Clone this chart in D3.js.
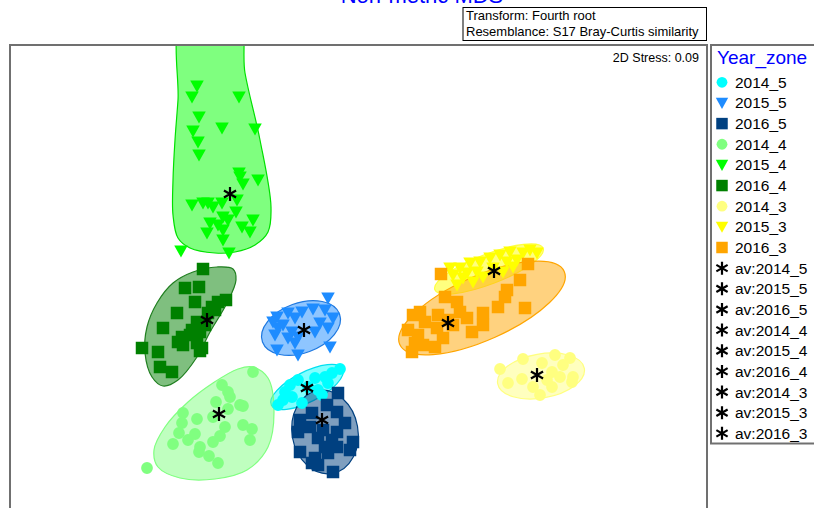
<!DOCTYPE html>
<html><head><meta charset="utf-8">
<script src="https://cdn.jsdelivr.net/npm/d3@7"></script>
<style>body{margin:0;background:#fff}svg{display:block;font-family:"Liberation Sans",Arial,sans-serif}</style>
</head><body><svg id="c" width="814" height="508"></svg>
<script>
// ---------- data (nMDS coordinates) ----------
const groups = ["2014_5","2015_5","2016_5","2014_4","2015_4","2016_4","2014_3","2015_3","2016_3"];
const shapes = ["circle","triangle","square","circle","triangle","square","circle","triangle","square"];
const colors = ["#00ffff","#1e8cff","#004080","#80ff80","#00ff00","#008000","#ffff80","#ffff00","#ffa500"];
const strokes = ["#00e0f0","#1e78e0","#004080","#80ff80","#00e000","#207f20","#ffff80","#ffff40","#ffa500"];

const pts2014_5 = [[-0.20,-0.89],[-0.28,-0.93],[-0.35,-0.97],[-0.45,-0.98],[-0.32,-1.03],[-0.62,-1.00],[-0.70,-1.05],[-0.52,-1.07],[-0.42,-1.10],[-0.68,-1.17],[-0.77,-1.20],[-0.82,-1.25],[-0.58,-1.23],[-0.38,-1.15],[-0.75,-1.12]];
const pts2015_5 = [[-0.32,-0.18],[-0.47,-0.29],[-0.35,-0.30],[-0.72,-0.33],[-0.83,-0.37],[-0.58,-0.32],[-0.27,-0.38],[-0.87,-0.42],[-0.40,-0.43],[-0.65,-0.38],[-0.77,-0.45],[-0.82,-0.48],[-0.32,-0.48],[-0.45,-0.52],[-0.68,-0.52],[-0.62,-0.57],[-0.85,-0.55],[-0.72,-0.58],[-0.65,-0.63],[-0.30,-0.67],[-0.83,-0.70],[-0.62,-0.75]];
const pts2016_5 = [[-0.22,-1.13],[-0.33,-1.25],[-0.48,-1.33],[-0.23,-1.32],[-0.60,-1.40],[-0.15,-1.43],[-0.50,-1.47],[-0.37,-1.50],[-0.23,-1.52],[-0.62,-1.52],[-0.42,-1.58],[-0.28,-1.60],[-0.07,-1.62],[-0.35,-1.67],[-0.23,-1.67],[-0.10,-1.70],[-0.60,-1.72],[-0.45,-1.78],[-0.32,-1.73],[-0.48,-1.83],[-0.27,-1.92],[-0.42,-1.85]];
const pts2014_4 = [[-1.07,-0.92],[-1.38,-1.05],[-1.32,-1.12],[-1.30,-1.17],[-1.44,-1.22],[-1.20,-1.25],[-1.17,-1.26],[-1.77,-1.33],[-1.32,-1.29],[-1.63,-1.39],[-1.78,-1.43],[-1.47,-1.37],[-1.35,-1.47],[-1.17,-1.45],[-1.08,-1.49],[-1.81,-1.53],[-1.65,-1.54],[-1.40,-1.56],[-1.72,-1.60],[-1.10,-1.60],[-1.87,-1.64],[-1.47,-1.62],[-1.60,-1.67],[-1.61,-1.72],[-1.51,-1.76],[-1.42,-1.83],[-2.13,-1.88]];
const pts2015_4 = [[-1.63,1.94],[-1.68,1.83],[-1.21,1.83],[-1.61,1.63],[-1.67,1.49],[-1.38,1.52],[-1.05,1.51],[-1.62,1.38],[-1.61,1.25],[-1.21,1.07],[-1.20,1.03],[-1.02,1.00],[-1.17,0.96],[-1.23,0.80],[-1.68,0.75],[-1.57,0.77],[-1.52,0.77],[-1.47,0.73],[-1.38,0.77],[-1.24,0.68],[-1.37,0.63],[-1.32,0.60],[-1.50,0.57],[-1.42,0.55],[-1.18,0.53],[-1.07,0.60],[-1.10,0.48],[-1.53,0.47],[-1.37,0.50],[-1.37,0.40],[-1.79,0.29],[-1.31,0.27]];
const pts2016_4 = [[-1.57,0.11],[-1.75,-0.08],[-1.61,-0.07],[-1.65,-0.22],[-1.34,-0.20],[-1.42,-0.22],[-1.45,-0.30],[-1.83,-0.33],[-1.97,-0.48],[-1.63,-0.42],[-1.60,-0.52],[-1.70,-0.55],[-1.82,-0.62],[-1.77,-0.65],[-1.63,-0.63],[-1.58,-0.68],[-2.18,-0.68],[-2.02,-0.72],[-1.60,-0.71],[-2.00,-0.87],[-1.88,-0.92],[-1.52,-0.33],[-1.48,-0.27],[-1.68,-0.50],[-1.78,-0.57],[-1.55,-0.45]];
const pts2014_3 = [[1.40,-0.89],[1.63,-0.79],[1.95,-0.75],[2.10,-0.78],[1.82,-0.83],[2.03,-0.85],[1.92,-0.92],[2.13,-0.97],[1.48,-1.03],[1.62,-0.99],[1.87,-1.00],[2.00,-0.97],[2.12,-1.02],[1.73,-1.07],[1.92,-1.07],[1.80,-1.15]];
const pts2015_3 = [[1.70,0.30],[1.63,0.27],[1.50,0.28],[1.40,0.25],[1.30,0.22],[1.20,0.18],[1.10,0.17],[1.00,0.12],[0.93,0.05],[1.03,0.02],[1.13,-0.02],[0.97,-0.05],[1.23,0.03],[1.43,0.08],[1.53,0.13],[1.33,0.12],[1.17,0.08],[1.07,0.07],[1.57,0.20],[1.77,0.27],[0.90,0.12],[1.47,0.18]];
const pts2016_3 = [[1.68,0.16],[0.81,0.06],[1.60,0.00],[1.47,-0.10],[1.45,-0.17],[0.85,-0.17],[0.97,-0.22],[1.38,-0.27],[1.65,-0.28],[1.00,-0.32],[0.60,-0.32],[0.53,-0.35],[0.78,-0.35],[1.23,-0.33],[1.07,-0.38],[0.65,-0.42],[1.23,-0.45],[0.93,-0.45],[0.77,-0.48],[0.48,-0.50],[1.12,-0.52],[0.58,-0.55],[0.83,-0.58],[0.55,-0.63],[0.63,-0.65],[0.75,-0.67],[0.52,-0.72],[0.88,-0.40]];
const points = [pts2014_5,pts2015_5,pts2016_5,pts2014_4,pts2015_4,pts2016_4,pts2014_3,pts2015_3,pts2016_3];

// group averages (asterisks)
const averages = [[-0.53,-1.08],[-0.56,-0.50],[-0.38,-1.40],[-1.41,-1.34],[-1.30,0.86],[-1.53,-0.40],[1.77,-0.95],[1.34,0.09],[0.88,-0.43]];

// group regions: ellipses [cx, cy, rx, ry, angleDeg] or outline polygons
const regionEllipse = {
  "2014_5": [-0.53,-1.07,0.40,0.15,-27],
  "2015_5": [-0.59,-0.48,0.41,0.25,-20],
  "2016_5": [-0.35,-1.52,0.33,0.42,-10],
  "2014_3": [1.81,-0.96,0.44,0.22,-10],
  "2015_3": [1.29,0.11,0.58,0.15,-21],
  "2016_3": [1.22,-0.28,0.90,0.32,-24]
};
const outline2014_4 = [[-1.07,-0.87],[-0.92,-0.98],[-0.86,-1.30],[-0.92,-1.67],[-1.13,-1.90],[-1.45,-1.99],[-1.80,-1.98],[-2.02,-1.87],[-2.06,-1.70],[-1.95,-1.47],[-1.72,-1.22],[-1.47,-1.03],[-1.22,-0.89]];
const outline2015_4 = [[-1.77,2.60],[-1.22,2.60],[-1.15,2.07],[-1.00,1.40],[-0.89,0.73],[-0.92,0.48],[-1.05,0.35],[-1.25,0.28],[-1.45,0.27],[-1.70,0.32],[-1.82,0.42],[-1.87,0.65],[-1.87,1.00],[-1.85,1.40],[-1.82,1.80]];
const outline2016_4 = [[-1.24,0.00],[-1.33,-0.23],[-1.50,-0.52],[-1.63,-0.77],[-1.82,-1.00],[-1.97,-1.06],[-2.08,-0.97],[-2.15,-0.73],[-2.13,-0.47],[-2.03,-0.23],[-1.87,-0.03],[-1.67,0.08],[-1.43,0.13],[-1.27,0.11]];
const regionOutline = {"2014_4": outline2014_4, "2015_4": outline2015_4, "2016_4": outline2016_4};

const titleText = "Non-metric MDS";
const infoLines = ["Transform: Fourth root","Resemblance: S17 Bray-Curtis similarity"];
const stressText = "2D Stress: 0.09";
const legendTitle = "Year_zone";

// ---------- drawing ----------
const svg = d3.select("#c");
const X0 = 10, X1 = 707, Y0 = 45, Y1 = 508;
const x = d3.scaleLinear().domain([-3.5, 3.47]).range([X0, X1]);
const y = d3.scaleLinear().domain([2.35, -2.28]).range([Y0, Y1]);
const ux = Math.abs(x(1) - x(0)), uy = Math.abs(y(1) - y(0));

svg.append("defs").append("clipPath").attr("id","plotclip")
  .append("rect").attr("x",X0).attr("y",Y0).attr("width",X1-X0).attr("height",520-Y0);

// title (cut at the top edge, as in the reference)
svg.append("text").attr("x",422).attr("y",3).attr("text-anchor","middle")
  .attr("font-size",22).attr("fill","#0000ff").text(titleText);

// info box
svg.append("rect").attr("x",463).attr("y",7.5).attr("width",243.5).attr("height",33)
  .attr("fill","#fff").attr("stroke","#000").attr("stroke-width",1);
infoLines.forEach((t,i)=>svg.append("text").attr("x",466).attr("y",19.5+i*16)
  .attr("font-size",13).attr("fill","#000").text(t));

const plot = svg.append("g").attr("clip-path","url(#plotclip)");

// regions
groups.forEach((g,i)=>{
  const e = regionEllipse[g];
  if (e) {
    plot.append("ellipse")
      .attr("transform",`translate(${x(e[0])},${y(e[1])}) rotate(${e[4]})`)
      .attr("rx", e[2]*ux).attr("ry", e[3]*uy)
      .attr("fill", colors[i]).attr("fill-opacity",0.5)
      .attr("stroke", strokes[i]).attr("stroke-width",1.2);
  } else {
    const line = d3.line().x(d=>x(d[0])).y(d=>y(d[1])).curve(d3.curveCatmullRomClosed.alpha(0.5));
    plot.append("path").attr("d", line(regionOutline[g]))
      .attr("fill", colors[i]).attr("fill-opacity",0.5)
      .attr("stroke", strokes[i]).attr("stroke-width",1.2);
  }
});

function symbolPath(shape, s){
  if (shape==="circle") { const r=s*0.47; return `M${-r},0A${r},${r} 0 1,0 ${r},0A${r},${r} 0 1,0 ${-r},0Z`; }
  if (shape==="square") { const h=s/2; return `M${-h},${-h}H${h}V${h}H${-h}Z`; }
  const h=s*0.54; return `M${-h},${-s*0.45}H${h}L0,${s*0.52}Z`;
}
function asteriskPath(s){
  const v=s/2, dx=Math.cos(Math.PI/6)*s/2, dy=Math.sin(Math.PI/6)*s/2;
  return `M0,${-v}V${v}M${-dx},${-dy}L${dx},${dy}M${-dx},${dy}L${dx},${-dy}`;
}

// points
groups.forEach((g,i)=>{
  plot.append("g").selectAll("path").data(points[i]).join("path")
    .attr("transform", d=>`translate(${x(d[0])},${y(d[1])})`)
    .attr("d", symbolPath(shapes[i], 12.5))
    .attr("fill", colors[i]);
});
// averages
plot.append("g").selectAll("path").data(averages).join("path")
  .attr("transform", d=>`translate(${x(d[0])},${y(d[1])})`)
  .attr("d", asteriskPath(14)).attr("stroke","#000").attr("stroke-width",2.2).attr("fill","none");

// frame
svg.append("rect").attr("x",X0).attr("y",Y0).attr("width",X1-X0).attr("height",540)
  .attr("fill","none").attr("stroke","#707070").attr("stroke-width",2);
svg.append("text").attr("x",699).attr("y",62).attr("text-anchor","end")
  .attr("font-size",12.5).attr("fill","#000").text(stressText);

// legend
svg.append("rect").attr("x",711).attr("y",Y0).attr("width",130).attr("height",398.5)
  .attr("fill","#fff").attr("stroke","#707070").attr("stroke-width",2);
svg.append("text").attr("x",717).attr("y",64).attr("font-size",19).attr("fill","#0000ff").text(legendTitle);
const legendItems = groups.map((g,i)=>({label:g, shape:shapes[i], color:colors[i]}))
  .concat(groups.map(g=>({label:"av:"+g, shape:"asterisk"})));
const lg = svg.append("g").selectAll("g").data(legendItems).join("g")
  .attr("transform",(d,i)=>`translate(0,${82.3+i*20.65})`);
lg.append("path").attr("transform","translate(722,0)")
  .attr("d", d=> d.shape==="asterisk" ? asteriskPath(13) : symbolPath(d.shape, 11.5))
  .attr("fill", d=> d.shape==="asterisk" ? "none" : d.color)
  .attr("stroke", d=> d.shape==="asterisk" ? "#000" : "none")
  .attr("stroke-width", 2.2);
lg.append("text").attr("x",735).attr("y",5.5).attr("font-size",15.5).attr("fill","#000").text(d=>d.label);
</script></body></html>
